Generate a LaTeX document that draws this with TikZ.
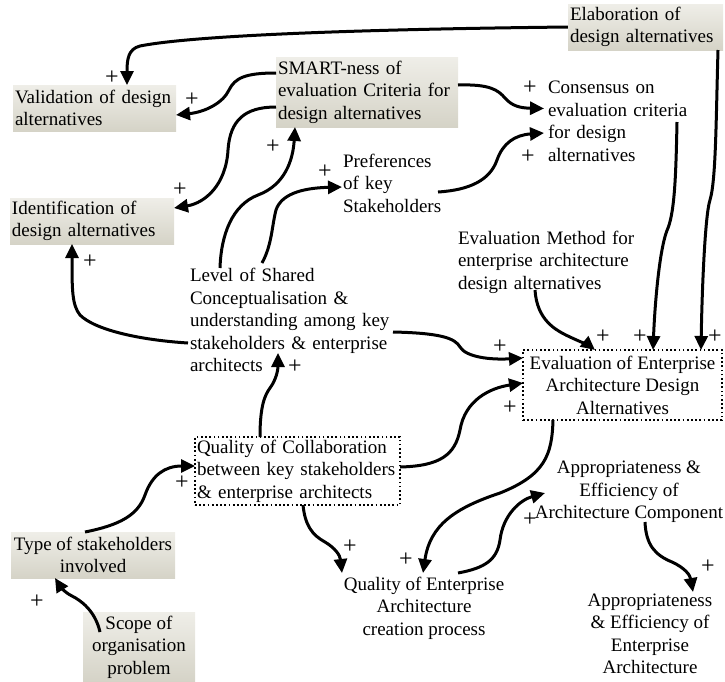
\documentclass[tikz,border=0pt]{standalone}
\usepackage{fontspec}
\setmainfont{Liberation Serif}
\usetikzlibrary{arrows.meta,calc}
\definecolor{shadetop}{HTML}{EFEEE8}
\definecolor{shadebot}{HTML}{D5D3C7}
\tikzset{
  lbl/.style={font=\fontsize{19}{22.5}\selectfont, inner sep=0pt},
  shadebox/.style={lbl, top color=shadetop, bottom color=shadebot, draw=none, inner xsep=2pt},
  dotbox/.style={lbl, draw, line width=1.7pt, dash pattern=on 1.7pt off 2.5pt, inner xsep=2pt},
  link/.style={line width=3pt, -{Triangle[length=14pt,width=13pt]}},
  pol/.style={font=\fontsize{24}{24}\selectfont, inner sep=0pt}
}
\begin{document}
\begin{tikzpicture}[x=1pt,y=-1pt]
\useasboundingbox (0,0) rectangle (725,681);

% shaded factor boxes
\node[shadebox, minimum width=155pt, minimum height=46pt, text width=151pt, align=left] (elab) at (645.5,27) {Elaboration of\\design alternatives};
\node[shadebox, minimum width=163pt, minimum height=46pt, text width=159pt, align=left] (valid) at (94.5,108) {Validation of design\\alternatives};
\node[shadebox, minimum width=182pt, minimum height=70pt, text width=178pt, align=left] (smart) at (367,92) {SMART-ness of\\evaluation Criteria for\\design alternatives};
\node[shadebox, minimum width=164pt, minimum height=46pt, text width=160pt, align=left] (ident) at (92,221) {Identification of\\design alternatives};
\node[shadebox, minimum width=164pt, minimum height=46pt, align=center] (type) at (93,555) {Type of stakeholders\\involved};
\node[shadebox, minimum width=112pt, minimum height=69pt, align=center] (scope) at (139,647) {Scope of\\organisation\\problem};

% plain factors
\node[lbl, text width=150pt, align=left] (cons) at (623,121.5) {Consensus on\\evaluation criteria\\for design\\alternatives};
\node[lbl, text width=110pt, align=left] (pref) at (398,183) {Preferences\\of key\\Stakeholders};
\node[lbl, text width=210pt, align=left] (level) at (295,320) {Level of Shared\\Conceptualisation \&\\understanding among key\\stakeholders \& enterprise\\architects};
\node[lbl, text width=186pt, align=left] (meth) at (551,262) {Evaluation Method for\\enterprise architecture\\design alternatives};
\node[lbl, align=center] (qea) at (424,608) {Quality of Enterprise\\Architecture\\creation process};
\node[lbl, align=center] (acomp) at (629,492) {Appropriateness \&\\Efficiency of\\Architecture Component};
\node[lbl, align=center] (aea) at (650,634) {Appropriateness\\\& Efficiency of\\Enterprise\\Architecture};

% dotted factor boxes
\node[dotbox, minimum width=199pt, minimum height=70pt, align=center] (evalea) at (622.5,385) {Evaluation of Enterprise\\Architecture Design\\Alternatives};
\node[dotbox, minimum width=205pt, minimum height=68pt, text width=201pt, align=left] (qc) at (297.5,471) {Quality of Collaboration\\between key stakeholders\\\& enterprise architects};

% causal links
\draw[link] (elab.west) .. controls (300,30) and (180,38) .. (140,46) .. controls (128,49) and (127,60) .. ($(valid)+(32.5,-23)$);
\draw[link] ($(smart)+(-91,-19)$) .. controls (245,73) and (235,78) .. (229,90) .. controls (223,103) and (205,112) .. ($(valid)+(81.5,7)$);
\draw[link] ($(smart)+(-91,15)$) .. controls (245,107) and (230,120) .. (228,150) .. controls (226,185) and (205,203) .. ($(ident)+(82,-13)$);
\draw[link] ($(level)+(-75,-52)$) .. controls (221,235) and (232,205) .. (258,195) .. controls (285,185) and (293,160) .. ($(smart)+(-72,35)$);
\draw[link] ($(level)+(-33,-57)$) .. controls (272,245) and (272,225) .. (276,210) .. controls (281,195) and (300,188) .. ($(pref)+(-56,4)$);
\draw[link] ($(pref)+(40,9)$) .. controls (470,190) and (490,180) .. (497,160) .. controls (503,143) and (515,135) .. ($(cons)+(-79,11.5)$);
\draw[link] ($(smart)+(91,-7)$) .. controls (490,84) and (498,90) .. (505,98) .. controls (512,106) and (520,108) .. ($(cons)+(-79,-13)$);
\draw[link] ($(cons)+(54,0.5)$) .. controls (676,170) and (675,210) .. (668,228) .. controls (660,245) and (655,300) .. ($(evalea)+(30.5,-35)$);
\draw[link] ($(elab)+(72.5,23)$) .. controls (716,120) and (716,180) .. (710,200) .. controls (705,215) and (702,290) .. ($(evalea)+(78.5,-35)$);
\draw[link] ($(meth)+(-16,28)$) .. controls (537,320) and (555,330) .. (570,337) .. controls (583,343) and (590,346) .. ($(evalea)+(-27.5,-35)$);
\draw[link] ($(level)+(-107,23)$) .. controls (140,340) and (95,330) .. (80,315) .. controls (72,305) and (72,290) .. ($(ident)+(-20,23)$);
\draw[link] ($(level)+(98,12)$) .. controls (440,333) and (455,338) .. (460,347) .. controls (466,357) and (490,360) .. ($(evalea)+(-99.5,-27)$);
\draw[link] ($(qc)+(-37.5,-34)$) .. controls (260,405) and (265,395) .. (270,388) .. controls (276,380) and (278,370) .. ($(level)+(-17,33)$);
\draw[link] ($(qc)+(102.5,-4)$) .. controls (440,466) and (455,455) .. (460,430) .. controls (465,400) and (490,388) .. ($(evalea)+(-99.5,-2)$);
\draw[link] ($(type)+(-8,-23)$) .. controls (120,525) and (138,515) .. (145,495) .. controls (152,475) and (165,466) .. ($(qc)+(-102.5,-5)$);
\draw[link] ($(scope)+(-39,-15)$) .. controls (95,610) and (80,600) .. (72,596) .. controls (64,592) and (60,586) .. ($(type)+(-38,23)$);
\draw[link] ($(qc)+(5.5,34)$) .. controls (305,525) and (312,535) .. (325,542) .. controls (335,548) and (340,555) .. ($(qea)+(-82,-35)$);
\draw[link] ($(evalea)+(-69.5,35)$) .. controls (552,455) and (545,475) .. (500,493) .. controls (455,508) and (430,525) .. ($(qea)+(-1,-35)$);
\draw[link] ($(qea)+(34,-35)$) .. controls (485,568) and (497,560) .. (500,540) .. controls (503,515) and (520,500) .. ($(acomp)+(-84,1)$);
\draw[link] ($(acomp)+(16,30)$) .. controls (646,545) and (655,555) .. (672,562) .. controls (685,568) and (690,575) .. ($(aea)+(43,-42)$);

% link polarities
\node[pol] (p1) at (112,78) {+};
\node[pol] (p2) at (192,100) {+};
\node[pol] (p3) at (180,190) {+};
\node[pol] (p4) at (273,147) {+};
\node[pol] (p5) at (325,172) {+};
\node[pol] (p6) at (530,88) {+};
\node[pol] (p7) at (528,157) {+};
\node[pol] (p8) at (90,262) {+};
\node[pol] (p9) at (295,367) {+};
\node[pol] (p10) at (500,347) {+};
\node[pol] (p11) at (510,408) {+};
\node[pol] (p12) at (603,337) {+};
\node[pol] (p13) at (640,337) {+};
\node[pol] (p14) at (715,337) {+};
\node[pol] (p15) at (182,483) {+};
\node[pol] (p16) at (37,602) {+};
\node[pol] (p17) at (350,547) {+};
\node[pol] (p18) at (406,560) {+};
\node[pol] (p19) at (530,520) {+};
\node[pol] (p20) at (708,567) {+};
\end{tikzpicture}
\end{document}
